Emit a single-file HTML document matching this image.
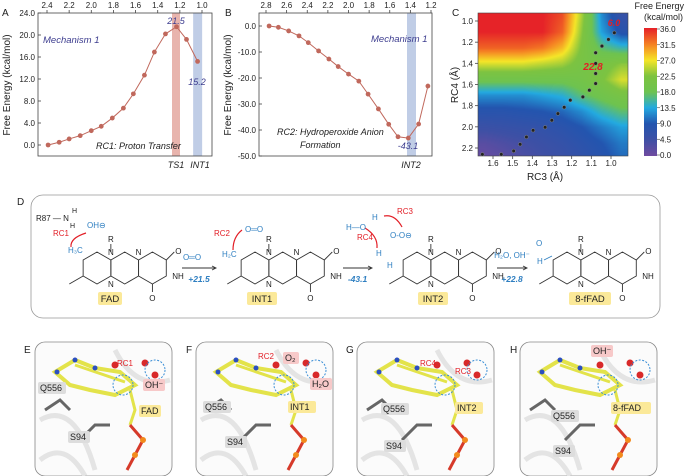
<!DOCTYPE html>
<html><head><meta charset="utf-8"><style>
html,body{margin:0;padding:0;background:#fff;}
#wrap{position:relative;width:685px;height:476px;overflow:hidden;font-family:"Liberation Sans",sans-serif;}
svg{position:absolute;left:0;top:0;}
#heat{position:absolute;left:478px;top:13px;}
#cbar{position:absolute;left:644px;top:28px;}
</style></head><body>
<div id="wrap">
<canvas id="heat" width="150" height="143"></canvas>
<canvas id="cbar" width="13" height="128"></canvas>
<svg id="svg" width="685" height="476" xmlns="http://www.w3.org/2000/svg"></svg>
</div>
<script>
// ---------- DATA ----------
const rcA = [2.39,2.29,2.20,2.10,2.00,1.91,1.81,1.71,1.62,1.52,1.43,1.33,1.23,1.14,1.04];
const energyA = [0.0,0.5,1.1,1.7,2.6,3.4,4.9,6.7,9.3,12.7,16.9,20.2,21.5,19.2,15.2];
const xTicksA = ["2.4","2.2","2.0","1.8","1.6","1.4","1.2","1.0"];
const yTicksA = [0,4,8,12,16,20,24];
const rcB = [2.77,2.68,2.58,2.48,2.39,2.29,2.19,2.10,2.00,1.90,1.81,1.71,1.61,1.52,1.42,1.32,1.23];
const energyB = [0,-0.5,-1.9,-3.8,-6.4,-9.6,-12.7,-15.6,-18.5,-21.2,-26.2,-31.9,-37.8,-42.6,-43.1,-37.7,-23.1];
const xTicksB = ["2.8","2.6","2.4","2.2","2.0","1.8","1.6","1.4","1.2"];
const yTicksB = [0,-10,-20,-30,-40,-50];
const gridRC3 = [1.65,1.55,1.45,1.35,1.25,1.15,1.05,0.95];
const gridRC4 = [0.95,1.1,1.25,1.4,1.55,1.7,1.85,2.0,2.15,2.3];
const gridE = [
 [36,36,36,36,34,24,12,6],
 [36,36,36,36,33,23,13,8],
 [33,33,33,32,29,22,17,15],
 [26,26,26,25,24,21,21,23],
 [19,19,19,19,19,20,22,26],
 [12,12,12,13,14,17,19,21],
 [8,8,8.5,9,10,12,15,17],
 [5,5.5,6,6.5,7.5,9,11,13],
 [2,3,4,5,6,7.5,9,11],
 [0.5,1.5,3,4,5,6.5,8,10]];
const pathRC3 = [1.654,1.558,1.495,1.462,1.430,1.396,1.335,1.301,1.270,1.238,1.207,1.143,1.110,1.078,1.078,1.078,1.078,1.046,1.013,0.983];
const pathRC4 = [2.260,2.260,2.228,2.165,2.096,2.033,2.004,1.938,1.875,1.815,1.748,1.717,1.654,1.591,1.496,1.401,1.300,1.237,1.174,1.111];
const xTicksC = [1.6,1.5,1.4,1.3,1.2,1.1,1.0];
const yTicksC = [1.0,1.2,1.4,1.6,1.8,2.0,2.2];
const cbarTicks = [36.0,31.5,27.0,22.5,18.0,13.5,9.0,4.5,0.0];

// ---------- helpers ----------
const svg=document.getElementById('svg');const NS='http://www.w3.org/2000/svg';
function el(tag,attrs,parent){const e=document.createElementNS(NS,tag);for(const k in attrs)e.setAttribute(k,attrs[k]);(parent||svg).appendChild(e);return e;}
function txt(x,y,s,opt){opt=opt||{};const t=el('text',{x:x,y:y,'font-size':opt.fs||8,fill:opt.fill||'#222','text-anchor':opt.a||'start','font-family':'Liberation Sans, sans-serif'});
 if(opt.it)t.setAttribute('font-style','italic');if(opt.b)t.setAttribute('font-weight','bold');if(opt.rot)t.setAttribute('transform',`rotate(${opt.rot} ${x} ${y})`);t.textContent=s;return t;}
const lin=(d0,d1,r0,r1)=>v=>r0+(v-d0)/(d1-d0)*(r1-r0);
const fmt1=v=>v.toFixed(1);

// ---------- Panel A ----------
(function(){
 const sx=lin(2.4,1.0,47,202), sy=lin(0,24,145,13);
 const L=38,R=212,T=13,B=156;
 const g=el('g',{});
 let r=el('rect',{x:172,y:T,width:8,height:B-T,fill:'#e8b4ad'},g);
 r=el('rect',{x:sx(1.08),y:T,width:9,height:B-T,fill:'#c0cde6'},g);
 r=el('rect',{x:L,y:T,width:R-L,height:B-T,fill:'none',stroke:'#444','stroke-width':0.8},g);
 yTicksA.forEach(v=>{el('line',{x1:L,x2:L+3,y1:sy(v),y2:sy(v),stroke:'#444','stroke-width':0.8},g);const t=txt(L-3,sy(v)+3,fmt1(v),{a:'end'});});
 xTicksA.forEach(s=>{const x=sx(+s);el('line',{x1:x,x2:x,y1:T,y2:T-3,stroke:'#444','stroke-width':0.8},g);const t=txt(x,8,s,{a:'middle'});});
 let t=txt(10,85,'Free Energy (kcal/mol)',{fs:10,a:'middle',rot:-90});
 let d='';rcA.forEach((v,i)=>d+=(i?'L':'M')+sx(v)+' '+sy(energyA[i]));
 let p=el('path',{d:d,fill:'none',stroke:'#c0685c','stroke-width':1},g);
 rcA.forEach((v,i)=>{const c=el('circle',{cx:sx(v),cy:sy(energyA[i]),r:2.4,fill:'#c0685c'},g);});
 t=txt(43,43,'Mechanism 1',{fs:9.5,it:1,fill:'#3d3d8f'});
 t=txt(96,149,'RC1: Proton Transfer',{fs:9,it:1});
 t=txt(176,24,'21.5',{fs:9,it:1,fill:'#3d3d8f',a:'middle'});
 t=txt(197,85,'15.2',{fs:9,it:1,fill:'#3d3d8f',a:'middle'});
 t=txt(176,168,'TS1',{fs:9,it:1,a:'middle'});
 t=txt(200,168,'INT1',{fs:9,it:1,a:'middle'});
 t=txt(2,16,'A',{fs:10});
})();

// ---------- Panel B ----------
(function(){
 const sx=lin(2.8,1.2,266,431), sy=lin(0,-50,26,156);
 const L=259,R=432,T=13,B=156;
 const g=el('g',{});
 let r=el('rect',{x:407,y:T,width:9,height:B-T,fill:'#c0cde6'},g);
 r=el('rect',{x:L,y:T,width:R-L,height:B-T,fill:'none',stroke:'#444','stroke-width':0.8},g);
 yTicksB.forEach(v=>{el('line',{x1:L,x2:L+3,y1:sy(v),y2:sy(v),stroke:'#444','stroke-width':0.8},g);const t=txt(L-3,sy(v)+3,fmt1(v),{a:'end'});});
 xTicksB.forEach(s=>{const x=sx(+s);el('line',{x1:x,x2:x,y1:T,y2:T-3,stroke:'#444','stroke-width':0.8},g);const t=txt(x,8,s,{a:'middle'});});
 let t=txt(231,85,'Free Energy (kcal/mol)',{fs:10,a:'middle',rot:-90});
 let d='';rcB.forEach((v,i)=>d+=(i?'L':'M')+sx(v)+' '+sy(energyB[i]));
 let p=el('path',{d:d,fill:'none',stroke:'#c0685c','stroke-width':1},g);
 rcB.forEach((v,i)=>{const c=el('circle',{cx:sx(v),cy:sy(energyB[i]),r:2.4,fill:'#c0685c'},g);});
 t=txt(371,42,'Mechanism 1',{fs:9.5,it:1,fill:'#3d3d8f'});
 t=txt(277,135,'RC2: Hydroperoxide Anion',{fs:9,it:1});
 t=txt(300,148,'Formation',{fs:9,it:1});
 t=txt(408,149,'-43.1',{fs:9,it:1,fill:'#3d3d8f',a:'middle'});
 t=txt(411,168,'INT2',{fs:9,it:1,a:'middle'});
 t=txt(225,16,'B',{fs:10});
})();

// ---------- Panel C ----------
const cmapV=[0,4.5,9,13.5,18,22.5,27,31.5,36];
const cmapC=[[110,75,160],[62,80,165],[35,85,175],[35,170,225],[110,195,80],[125,195,65],[245,230,40],[245,130,35],[230,35,40]];
function cmap(v){v=Math.max(0,Math.min(36,v));let i=Math.min(7,Math.floor(v/4.5));const f=(v-cmapV[i])/4.5;const a=cmapC[i],b=cmapC[i+1];return [0,1,2].map(k=>Math.round(a[k]+(b[k]-a[k])*f));}
(function(){
 const W=150,H=143;const cv=document.getElementById('heat');const ctx=cv.getContext('2d');const img=ctx.createImageData(W,H);
 const px2rc3=lin(15,133,1.6,1.0), px2rc4=lin(8,135,1.0,2.2);
 function interp(arr,v){
   let dir=arr[1]>arr[0]?1:-1;for(let i=0;i<arr.length-1;i++){const a=arr[i],b=arr[i+1];if((v-a)*dir<=(b-a)*dir||i==arr.length-2)return Math.max(0,Math.min(arr.length-1,i+(v-a)/(b-a)));}return 0;}
 for(let y=0;y<H;y++)for(let x=0;x<W;x++){
   const fi=interp(gridRC4,px2rc4(y)), fj=interp(gridRC3,px2rc3(x));
   const i0=Math.min(gridRC4.length-2,Math.floor(fi)), j0=Math.min(gridRC3.length-2,Math.floor(fj));
   const u=fi-i0,w=fj-j0;
   const v=(gridE[i0][j0]*(1-w)+gridE[i0][j0+1]*w)*(1-u)+(gridE[i0+1][j0]*(1-w)+gridE[i0+1][j0+1]*w)*u;
   const c=cmap(v);const k=(y*W+x)*4;img.data[k]=c[0];img.data[k+1]=c[1];img.data[k+2]=c[2];img.data[k+3]=255;}
 ctx.putImageData(img,0,0);
 const cb=document.getElementById('cbar').getContext('2d');
 for(let y=0;y<128;y++){const c=cmap(36-y/127*36);cb.fillStyle=`rgb(${c})`;cb.fillRect(0,y,13,1);}
 const sx=lin(1.6,1.0,493,611), sy=lin(1.0,2.2,21,148);
 const g=el('g',{});
 let r=el('rect',{x:478,y:13,width:150,height:143,fill:'none',stroke:'#444','stroke-width':0.6},g);
 xTicksC.forEach(v=>{el('line',{x1:sx(v),x2:sx(v),y1:156,y2:159,stroke:'#444','stroke-width':0.8},g);const t=txt(sx(v),166,fmt1(v),{a:'middle'});});
 yTicksC.forEach(v=>{el('line',{x1:475,x2:478,y1:sy(v),y2:sy(v),stroke:'#444','stroke-width':0.8},g);const t=txt(473,sy(v)+3,fmt1(v),{a:'end'});});
 pathRC3.forEach((v,i)=>{const c=el('circle',{cx:sx(v),cy:sy(pathRC4[i]),r:1.8,fill:'#222',stroke:'#999','stroke-width':0.4},g);});
 let t=txt(545,180,'RC3 (Å)',{fs:10,a:'middle'});
 t=txt(458,85,'RC4 (Å)',{fs:10,a:'middle',rot:-90});
 t=txt(593,70,'22.8',{fs:10,it:1,b:1,fill:'#e21e26',a:'middle'});
 t=txt(614,26,'6.0',{fs:9,it:1,b:1,fill:'#e21e26',a:'middle'});
 const cs=lin(36,0,29,155);
 cbarTicks.forEach(v=>{el('line',{x1:657,x2:660,y1:cs(v),y2:cs(v),stroke:'#444','stroke-width':0.6},g);const tt=txt(660,cs(v)+3,fmt1(v));});
 t=txt(684,9,'Free Energy',{fs:9,a:'end'});
 t=txt(683,20,'(kcal/mol)',{fs:9,a:'end'});
 t=txt(452,16,'C',{fs:10});
})();

// ---------- Panel D: scheme ----------
(function(){
 const g=el('g',{});
 let r=el('rect',{x:31,y:195,width:629,height:123,rx:12,fill:'none',stroke:'#999','stroke-width':0.8},g);
 let t=txt(17,205,'D',{fs:10});
 function mol(cx,cy,name,lx){
   const rr=16,w=rr*Math.sqrt(3);const mg=el('g',{},g);
   for(let k=0;k<3;k++){let pts='';for(let a=0;a<6;a++){const an=(-90+60*a)*Math.PI/180;pts+=(cx+k*w+rr*Math.cos(an))+','+(cy+rr*Math.sin(an))+' ';}
     el('polygon',{points:pts,fill:'none',stroke:'#333','stroke-width':0.9},mg);}
   el('line',{x1:cx-w/2,y1:cy+rr/2,x2:cx-w,y2:cy+rr,stroke:'#333','stroke-width':0.9},mg);
   el('line',{x1:cx+w/2,y1:cy-rr,x2:cx+w/2,y2:cy-rr-8,stroke:'#333','stroke-width':0.9},mg);
   txt(cx+w/2,cy-rr-10,'R',{fs:8,a:'middle'});
   txt(cx+w/2,cy-rr+3,'N',{fs:8,a:'middle'});txt(cx+w/2,cy+rr+3,'N',{fs:8,a:'middle'});
   txt(cx+1.5*w,cy-rr+3,'N',{fs:8,a:'middle'});txt(cx+2.5*w+6,cy+rr/2+3,'NH',{fs:8});
   el('line',{x1:cx+2.5*w,y1:cy-rr/2,x2:cx+2.5*w+8,y2:cy-rr,stroke:'#333','stroke-width':0.9},mg);
   txt(cx+2.5*w+9,cy-rr+2,'O',{fs:8});
   el('line',{x1:cx+2*w,y1:cy+rr,x2:cx+2*w,y2:cy+rr+8,stroke:'#333','stroke-width':0.9},mg);
   txt(cx+2*w,cy+rr+17,'O',{fs:8,a:'middle'});
   const lw=name.length*6+6;
   el('rect',{x:lx-lw/2,y:cy+24,width:lw,height:13,fill:'#fbe999',rx:2},mg);
   const l=txt(lx,cy+34,name,{fs:9.5,a:'middle'});
 }
 mol(97,268,'FAD',110);mol(255,268,'INT1',262);mol(417,268,'INT2',433);mol(567,268,'8-fFAD',590);
 const arrows=[[182,216,'+21.5'],[343,372,'-43.1'],[497,527,'+22.8']];
 arrows.forEach(a=>{const l=el('line',{x1:a[0],x2:a[1],y1:268,y2:268,stroke:'#333','stroke-width':0.9},g);
   el('path',{d:`M${a[1]-4} 266 L${a[1]} 268 L${a[1]-4} 270`,fill:'none',stroke:'#333','stroke-width':0.9},g);
   const tt=txt((a[0]+a[1])/2,282,a[2],{fs:8.5,it:1,b:1,fill:'#2f7fc1',a:'middle'});});
 txt(192,260,'O═O',{fs:8,fill:'#2f7fc1',a:'middle'});txt(512,258,'H₂O, OH⁻',{fs:8,fill:'#2f7fc1',a:'middle'});
 txt(36,221,'R87 — N',{fs:8});txt(72,213,'H',{fs:7});txt(70,228,'H',{fs:7});txt(87,228,'OH⊖',{fs:8,fill:'#2f7fc1'});
 txt(53,236,'RC1',{fs:8,fill:'#e21e26'});txt(68,253,'H₃C',{fs:8,fill:'#2f7fc1'});
 el('path',{d:'M86 233 Q70 238 71 247',fill:'none',stroke:'#e21e26','stroke-width':1.2},g);
 txt(214,236,'RC2',{fs:8,fill:'#e21e26'});txt(222,257,'H₂C',{fs:8,fill:'#2f7fc1'});txt(245,232,'O═O',{fs:8,fill:'#2f7fc1'});
 el('path',{d:'M233 250 Q233 237 242 230',fill:'none',stroke:'#e21e26','stroke-width':1.2},g);
 txt(346,230,'H—O',{fs:8,fill:'#2f7fc1'});txt(372,220,'H',{fs:8,fill:'#2f7fc1'});txt(397,214,'RC3',{fs:8,fill:'#e21e26'});
 txt(357,240,'RC4',{fs:8,fill:'#e21e26'});txt(390,238,'O-O⊖',{fs:8,fill:'#2f7fc1'});txt(376,256,'H',{fs:8,fill:'#2f7fc1'});txt(387,268,'H',{fs:8,fill:'#2f7fc1'});
 el('path',{d:'M402 227 Q395 214 384 216',fill:'none',stroke:'#e21e26','stroke-width':1.2},g);
 el('path',{d:'M365 228 Q378 236 377 248',fill:'none',stroke:'#e21e26','stroke-width':1.2},g);
 txt(536,246,'O',{fs:8,fill:'#2f7fc1'});txt(537,264,'H',{fs:8,fill:'#2f7fc1'});
 el('line',{x1:544,y1:260,x2:552,y2:256,stroke:'#2f7fc1','stroke-width':0.9},g);
})();

// ---------- Panels E-H ----------
(function(){
 const panels=[
  {id:'e',letter:'E',x:35,lx:24,labels:[['Q556',40,391,'#ddd'],['FAD',141,414,'#fbe999'],['S94',70,440,'#ddd'],['OH⁻',145,388,'#f7c9c9']],red:[['RC1',117,366]]},
  {id:'f',letter:'F',x:196,lx:186,labels:[['Q556',205,410,'#ddd'],['INT1',290,410,'#fbe999'],['S94',227,445,'#ddd'],['O₂',285,361,'#f7c9c9'],['H₂O',312,387,'#f7c9c9']],red:[['RC2',258,359]]},
  {id:'g',letter:'G',x:357,lx:346,labels:[['Q556',383,412,'#ddd'],['INT2',457,411,'#fbe999'],['S94',386,449,'#ddd']],red:[['RC4',420,366],['RC3',455,374]]},
  {id:'h',letter:'H',x:520,lx:510,labels:[['OH⁻',593,354,'#f7c9c9'],['Q556',553,419,'#ddd'],['8-fFAD',613,411,'#fbe999'],['S94',555,454,'#ddd']],red:[]}];
 panels.forEach(p=>{
  const g=el('g',{});
  let r=el('rect',{x:p.x,y:342,width:137,height:134,rx:10,fill:'#fbfbfb',stroke:'#888','stroke-width':0.8},g);
  const t=txt(p.lx,353,p.letter,{fs:10});
  const x=p.x;
  el('path',{d:`M${x+5} 420 Q${x+40} 400 ${x+60} 470 M${x+80} 350 Q${x+100} 390 ${x+135} 380 M${x+5} 460 Q${x+30} 440 ${x+50} 476`,fill:'none',stroke:'#e4e4e4','stroke-width':5},g);
  el('path',{d:`M${x+20} 372 L${x+40} 360 L${x+60} 368 L${x+85} 372 L${x+100} 385 L${x+80} 395 L${x+55} 390 L${x+35} 385 Z`,fill:'none',stroke:'#e3e34a','stroke-width':4},g);
  el('path',{d:`M${x+40} 365 L${x+90} 382`,stroke:'#e3e34a','stroke-width':3,fill:'none'},g);
  [[x+22,372],[x+40,360],[x+60,368]].forEach(c=>el('circle',{cx:c[0],cy:c[1],r:2.5,fill:'#2b4fc0'},g));
  el('path',{d:`M${x+95} 390 L${x+100} 410 L${x+95} 425`,fill:'none',stroke:'#e3e34a','stroke-width':3},g);
  el('path',{d:`M${x+95} 425 L${x+108} 440 L${x+100} 455 L${x+92} 470`,fill:'none',stroke:'#d63a2a','stroke-width':3},g);
  el('circle',{cx:x+108,cy:440,r:3,fill:'#f28a1c'},g);el('circle',{cx:x+100,cy:455,r:3,fill:'#f28a1c'},g);
  el('path',{d:`M${x+10} 410 L${x+25} 400 L${x+35} 410 M${x+45} 440 L${x+60} 425 L${x+75} 425`,fill:'none',stroke:'#666','stroke-width':3},g);
  [[x+110,363],[x+120,375],[x+80,365]].forEach(c=>el('circle',{cx:c[0],cy:c[1],r:3.5,fill:'#d8292a'},g));
  el('circle',{cx:x+120,cy:370,r:10,fill:'none',stroke:'#3c8fd6','stroke-width':1,'stroke-dasharray':'2,1.5'},g);
  el('circle',{cx:x+88,cy:385,r:10,fill:'none',stroke:'#3c8fd6','stroke-width':1,'stroke-dasharray':'2,1.5'},g);
  p.labels.forEach(l=>{const w=l[0].length*6+4;el('rect',{x:l[1]-2,y:l[2]-9,width:w,height:12,rx:2,fill:l[3]},g);
    const tt=txt(l[1],l[2],l[0],{fs:9});});
  p.red.forEach(l=>{const tt=txt(l[1],l[2],l[0],{fs:8,fill:'#e21e26'});});
 });
})();
</script>
</body></html>
